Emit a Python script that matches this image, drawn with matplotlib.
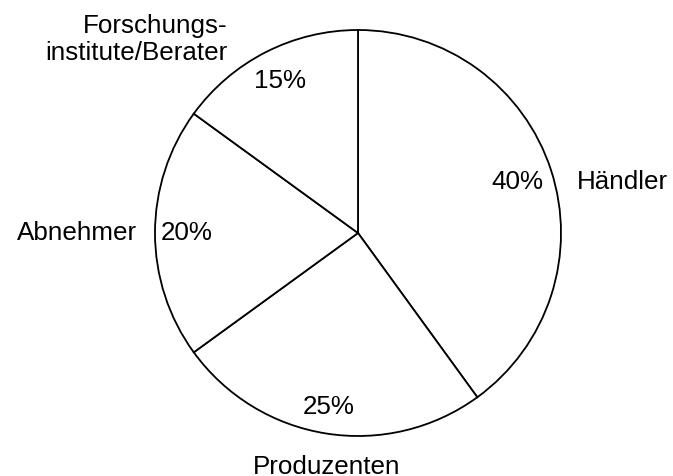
import matplotlib
matplotlib.use("Agg")
import matplotlib.pyplot as plt

categories = ["Händler", "Produzenten", "Abnehmer", "Forschungs-\ninstitute/Berater"]
shares = [40, 25, 20, 15]
pct_labels = ["40%", "25%", "20%", "15%"]

plt.rcParams['font.family'] = ['Liberation Sans', 'DejaVu Sans']

W, H, DPI = 673, 477, 100
fig = plt.figure(figsize=(W / DPI, H / DPI), dpi=DPI)
ax = fig.add_axes([0, 0, 1, 1])

cx, cy, R = 358.0, 234.0, 203.0  # pixel layout of the pie

wedges, texts, autotexts = ax.pie(
    shares, labels=categories, startangle=90, counterclock=False,
    colors=["white"] * len(shares),
    wedgeprops=dict(edgecolor="black", linewidth=1.3),
    autopct=lambda p: f"{p:.0f}%", pctdistance=0.84,
    textprops=dict(fontsize=18.7, color="black"),
)

# label placement (radius units) and alignment
label_pos = [(1.079, 0.256, "left"), (-0.153, -1.148, "center"),
             (-1.089, 0.005, "right"), (-0.645, 0.96, "right")]
for t, (x, y, ha) in zip(texts, label_pos):
    t.set_position((x, y))
    t.set_ha(ha)
    t.set_va("center")
    t.set_multialignment(ha)
    t.set_linespacing(1.15)

pct_pos = [(0.783, 0.256), (-0.143, -0.852), (-0.842, 0.005), (-0.384, 0.754)]
for t, s, (x, y) in zip(autotexts, pct_labels, pct_pos):
    t.set_text(s)
    t.set_position((x, y))
    t.set_ha("center")
    t.set_va("center")

ax.set_xlim(-cx / R, (W - cx) / R)
ax.set_ylim(-(H - cy) / R, cy / R)
ax.set_aspect("auto")
ax.axis("off")

fig.savefig("out.png", dpi=DPI, facecolor="white")
